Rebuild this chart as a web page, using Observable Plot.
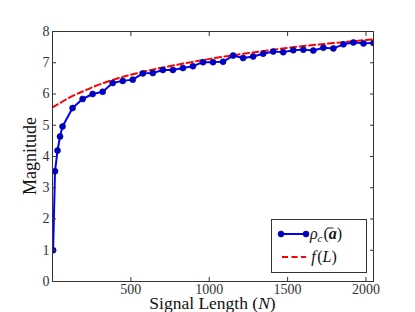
<!DOCTYPE html>
<html>
<head>
<meta charset="utf-8">
<script src="https://cdn.jsdelivr.net/npm/d3@7"></script>
<script src="https://cdn.jsdelivr.net/npm/@observablehq/plot@0.6"></script>
<style>
  html, body { margin: 0; padding: 0; background: #fff; }
  #chart svg { display: block; }
</style>
</head>
<body>
<div id="chart"></div>
<script>
// Measured series rho_c(a)
const signalLength = [4, 16, 32, 48, 64, 128, 192, 256, 320, 384, 448, 512, 576, 640, 704, 768, 832, 896, 960, 1024, 1088, 1152, 1216, 1280, 1344, 1408, 1472, 1536, 1600, 1664, 1728, 1792, 1856, 1920, 1984, 2048];
const magnitude = [1.0, 3.53, 4.19, 4.64, 4.96, 5.55, 5.84, 6.0, 6.07, 6.35, 6.42, 6.46, 6.66, 6.67, 6.77, 6.77, 6.83, 6.89, 7.02, 7.02, 7.03, 7.23, 7.15, 7.2, 7.29, 7.36, 7.34, 7.4, 7.42, 7.39, 7.48, 7.46, 7.59, 7.65, 7.62, 7.63];

// Fitted curve f(L)
const fitL = [0, 64, 128, 192, 256, 384, 512, 640, 768, 1024, 1280, 1536, 1792, 2048];
const fitValue = [5.57, 5.76, 5.94, 6.08, 6.22, 6.45, 6.63, 6.78, 6.91, 7.14, 7.33, 7.5, 7.63, 7.75];

const xTicks = [500, 1000, 1500, 2000];
const yTicks = [0, 1, 2, 3, 4, 5, 6, 7, 8];

const measured = signalLength.map((n, i) => ({n, v: magnitude[i]}));
const fit = fitL.map((n, i) => ({n, v: fitValue[i]}));

const W = 415, H = 312;
const mL = 52, mR = 42, mT = 31, mB = 31;
const font = '"Liberation Serif", "Times New Roman", Times, "DejaVu Serif", serif';

const plot = Plot.plot({
  width: W, height: H,
  marginLeft: mL, marginRight: mR, marginTop: mT, marginBottom: mB,
  style: {fontFamily: font, fontSize: "14px", background: "#fff", color: "#222"},
  x: {domain: [0, 2048], label: null},
  y: {domain: [0, 8], label: null},
  marks: [
    Plot.line(fit, {x: "n", y: "v", stroke: "#ff0000", strokeWidth: 2, strokeDasharray: "6,3.5", curve: "natural", clip: true}),
    Plot.line(measured, {x: "n", y: "v", stroke: "#0000ff", strokeWidth: 2, clip: true}),
    Plot.dot(measured, {x: "n", y: "v", r: 3, fill: "#0000cc", stroke: "#00007a", strokeWidth: 0.6, clip: true}),
    Plot.frame({stroke: "#333", strokeWidth: 1}),
    Plot.axisX(xTicks, {anchor: "bottom", tickSize: -4, tickPadding: 6.5, tickFormat: d3.format("d"), stroke: "#333", fill: "#333", label: null, fontFamily: font}),
    Plot.axisX(xTicks, {anchor: "top", tickSize: -4, tickFormat: () => "", stroke: "#333", label: null}),
    Plot.axisY(yTicks, {anchor: "left", tickSize: -4, tickPadding: 7, tickFormat: d3.format("d"), stroke: "#333", fill: "#333", label: null, fontFamily: font}),
    Plot.axisY(yTicks, {anchor: "right", tickSize: -4, tickFormat: () => "", stroke: "#333", label: null})
  ]
});

document.getElementById("chart").appendChild(plot);

const svg = d3.select(plot);
const x0 = mL, x1 = W - mR, y0 = mT, y1 = H - mB;

// Axis titles
const xt = svg.append("text")
  .attr("x", (x0 + x1) / 2).attr("y", 309)
  .attr("text-anchor", "middle")
  .style("font-family", font).style("font-size", "17.5px").attr("fill", "#111");
xt.append("tspan").text("Signal Length (");
xt.append("tspan").attr("font-style", "italic").text("N");
xt.append("tspan").text(")");

svg.append("text")
  .attr("transform", `translate(36,${(y0 + y1) / 2}) rotate(-90)`)
  .attr("text-anchor", "middle")
  .style("font-family", font).style("font-size", "18px").attr("fill", "#111")
  .text("Magnitude");

// Legend
const lg = svg.append("g");
lg.append("rect").attr("x", 271.5).attr("y", 219.5).attr("width", 95).attr("height", 53)
  .attr("fill", "#fff").attr("stroke", "#333").attr("stroke-width", 1);
lg.append("line").attr("x1", 281).attr("x2", 306).attr("y1", 234).attr("y2", 234)
  .attr("stroke", "#0000ff").attr("stroke-width", 2);
[281, 306].forEach(cx => lg.append("circle").attr("cx", cx).attr("cy", 234).attr("r", 3)
  .attr("fill", "#0000cc").attr("stroke", "#00007a").attr("stroke-width", 0.6));
lg.append("line").attr("x1", 282).attr("x2", 306).attr("y1", 257).attr("y2", 257)
  .attr("stroke", "#ff0000").attr("stroke-width", 2).attr("stroke-dasharray", "6,3.5");

const t1 = lg.append("text").attr("x", 326).attr("y", 238.5)
  .style("font-family", font).style("font-size", "16px").attr("fill", "#111");
t1.append("tspan").attr("font-style", "italic").text("ρ");
t1.append("tspan").attr("font-style", "italic").attr("font-size", "11px").attr("dy", 3).text("c");
t1.append("tspan").attr("dy", -3).attr("dx", 1).text("(");
t1.append("tspan").attr("font-style", "italic").attr("font-weight", "bold").text("a");
t1.append("tspan").text(")");
// bar over rho
lg.append("line").attr("x1", 327.5).attr("x2", 333.5).attr("y1", 228).attr("y2", 228)
  .attr("stroke", "#111").attr("stroke-width", 0.9);

const t2 = lg.append("text").attr("x", 324).attr("y", 261.5)
  .style("font-family", font).style("font-size", "16px").attr("fill", "#111");
t2.append("tspan").attr("font-style", "italic").text("f");
t2.append("tspan").attr("dx", 1.5).text("(");
t2.append("tspan").attr("font-style", "italic").text("L");
t2.append("tspan").text(")");
</script>
</body>
</html>
